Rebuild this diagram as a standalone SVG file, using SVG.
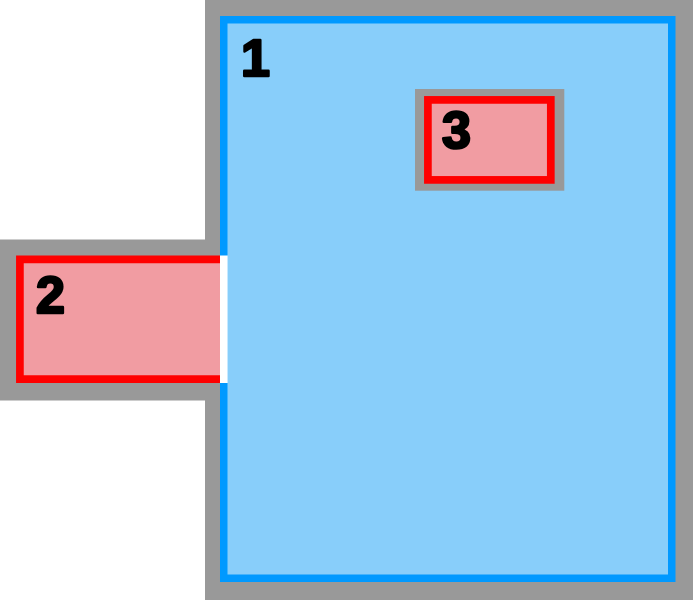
<svg xmlns="http://www.w3.org/2000/svg" width="693" height="600" viewBox="0 0 693 600">
<style>
.halo{fill:#999999}
.blue{fill:#88CEFA;stroke:#0099FF;stroke-width:7.5}
.red{fill:#F19CA2;stroke:#FF0000;stroke-width:7.7}
.num{font-family:"Liberation Sans",Arial,sans-serif;font-weight:700;font-size:52px;fill:#000;stroke:#000;stroke-width:2.6;stroke-linejoin:round}
</style>
<rect width="693" height="600" fill="#fff"/>
<g id="halo">
<rect class="halo" x="205" y="0" width="488" height="600"/>
<rect class="halo" x="0" y="239.5" width="205" height="161"/>
</g>
<g id="node-1">
<rect class="blue" x="223.75" y="19.75" width="448" height="558.5"/>
<text class="num" x="241" y="76">1</text>
</g>
<g id="node-2">
<rect x="220" y="255.5" width="7.7" height="127.5" fill="#fff"/>
<path d="M220 259.4H19.9V379.1H220" class="red"/>
<text class="num" x="36" y="313">2</text>
</g>
<g id="node-3">
<rect class="halo" x="415" y="89" width="149.3" height="101.7"/>
<rect class="red" x="427.9" y="99.9" width="122.9" height="80"/>
<text class="num" x="442" y="148">3</text>
</g>
<g id="connectors"/>
</svg>
